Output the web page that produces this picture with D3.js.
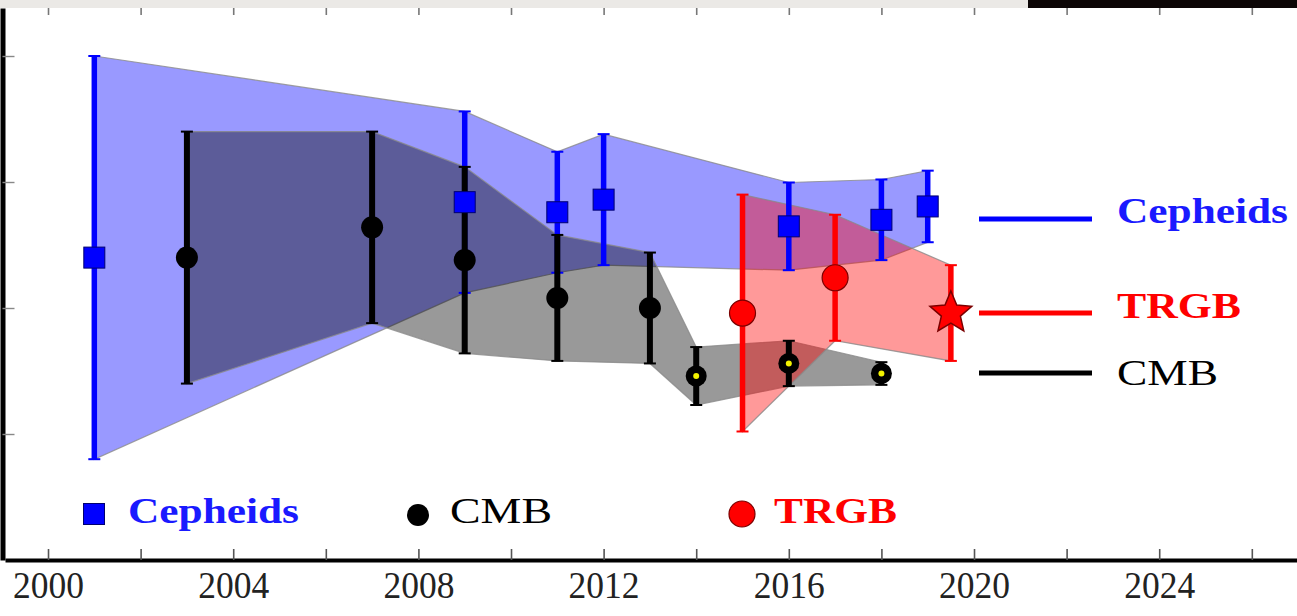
<!DOCTYPE html>
<html>
<head>
<meta charset="utf-8">
<script src="https://cdn.jsdelivr.net/npm/d3@7"></script>
<style>
  html, body { margin: 0; padding: 0; background: #fff; }
  svg { display: block; }
</style>
</head>
<body>
<script>
// ---------------- data ----------------
const cephYears = [2001, 2009, 2011, 2012, 2016, 2018, 2019];
const cephH0    = [72.0, 74.2, 73.8, 74.3, 73.24, 73.5, 74.03];
const cephErr   = [8.0, 3.6, 2.4, 2.6, 1.74, 1.6, 1.42];

const cmbYears  = [2003, 2007, 2009, 2011, 2013, 2014, 2016, 2018];
const cmbH0     = [72.0, 73.2, 71.9, 70.4, 70.0, 67.3, 67.8, 67.4];
const cmbErr    = [5.0, 3.8, 3.7, 2.5, 2.2, 1.15, 0.9, 0.45];
const cmbKind   = ["WMAP", "WMAP", "WMAP", "WMAP", "WMAP", "Planck", "Planck", "Planck"];

const trgbYears = [2015, 2017, 2019.5];
const trgbH0    = [69.8, 71.2, 69.8];
const trgbErr   = [4.7, 2.5, 1.9];
const trgbKind  = ["circle", "circle", "star"];

const xTickYears  = [2000, 2002, 2004, 2006, 2008, 2010, 2012, 2014, 2016, 2018, 2020, 2022, 2024, 2026];
const xLabelYears = [2000, 2004, 2008, 2012, 2016, 2020, 2024];
const yTickValues = [65, 70, 75, 80];

const legendNames = ["Cepheids", "CMB", "TRGB"];

// ---------------- setup ----------------
const W = 1297, H = 616;
const svg = d3.select("body").append("svg").attr("width", W).attr("height", H);

const x = d3.scaleLinear().domain([1999.071, 2026.976]).range([5, 1297]);
const y = d3.scaleLinear().domain([60, 81.905]).range([560, 8]);

const colors = {
  Cepheids: { main: "#0000ff", band: "rgba(0,0,255,0.4)", text: "#1a1aff", edge: "#000070" },
  CMB:      { main: "#000000", band: "rgba(0,0,0,0.4)",   text: "#000000", edge: "#000000" },
  TRGB:     { main: "#ff0000", band: "rgba(255,0,0,0.4)", text: "#ff0000", edge: "#7a0000" }
};

function pts(years, vals, errs) {
  return years.map((yr, i) => ({ yr, v: vals[i], e: errs[i], i }));
}
const ceph = pts(cephYears, cephH0, cephErr);
const cmb  = pts(cmbYears, cmbH0, cmbErr);
const trgb = pts(trgbYears, trgbH0, trgbErr);

// top screenshot strip
svg.append("rect").attr("x", 0).attr("y", 0).attr("width", 1028).attr("height", 8).attr("fill", "#ebe9e6");
svg.append("rect").attr("x", 1028).attr("y", 0).attr("width", W - 1028).attr("height", 8).attr("fill", "#0c0606");

// ---------------- bands ----------------
function bandPath(data) {
  const upper = data.map(d => [x(d.yr), y(d.v + d.e)]);
  const lower = data.slice().reverse().map(d => [x(d.yr), y(d.v - d.e)]);
  return d3.line()(upper.concat(lower)) + "Z";
}
const bands = svg.append("g");
[["Cepheids", ceph], ["CMB", cmb], ["TRGB", trgb]].forEach(([name, data]) => {
  bands.append("path")
    .attr("d", bandPath(data))
    .attr("fill", colors[name].band)
    .attr("stroke", "#8a8a8a")
    .attr("stroke-opacity", 0.8)
    .attr("stroke-width", 1.2);
});

// ---------------- axes ----------------
const xAxis = d3.axisBottom(x)
  .tickValues(xTickYears)
  .tickSizeInner(-11)
  .tickSizeOuter(0)
  .tickPadding(12)
  .tickFormat(d => xLabelYears.includes(d) ? String(d) : "");
const gx = svg.append("g").attr("transform", "translate(0,560)").call(xAxis);
gx.select(".domain").attr("stroke", "#000").attr("stroke-width", 4);
gx.selectAll(".tick line").attr("stroke", "#555").attr("stroke-width", 1.6);
gx.selectAll(".tick text")
  .attr("fill", "#222")
  .attr("font-family", "'Liberation Serif', 'Times New Roman', serif")
  .attr("font-size", 37)
  .each(function(d) {
    if (xLabelYears.includes(d)) d3.select(this).attr("textLength", 71).attr("lengthAdjust", "spacingAndGlyphs");
  });

const xTop = d3.axisTop(x).tickValues(xTickYears).tickSizeInner(-7).tickSizeOuter(0).tickFormat("");
const gt = svg.append("g").attr("transform", "translate(0,8)").call(xTop);
gt.select(".domain").remove();
gt.selectAll(".tick line").attr("stroke", "#777").attr("stroke-width", 1.6);

const yAxis = d3.axisLeft(y).tickValues(yTickValues).tickSizeInner(-12).tickSizeOuter(0).tickFormat("");
const gy = svg.append("g").attr("transform", "translate(2.5,0)").call(yAxis);
gy.select(".domain").attr("stroke", "#000").attr("stroke-width", 5);
gy.selectAll(".tick line").attr("stroke", "#888").attr("stroke-width", 1.4);

// ---------------- error bars ----------------
function errorBars(data, color, width) {
  const g = svg.append("g");
  data.forEach(d => {
    const cx = x(d.yr);
    g.append("line").attr("x1", cx).attr("x2", cx)
      .attr("y1", y(d.v + d.e)).attr("y2", y(d.v - d.e))
      .attr("stroke", color).attr("stroke-width", width);
    [d.v + d.e, d.v - d.e].forEach(v => {
      g.append("line").attr("x1", cx - 6).attr("x2", cx + 6)
        .attr("y1", y(v)).attr("y2", y(v))
        .attr("stroke", color).attr("stroke-width", 2);
    });
  });
}
errorBars(ceph, colors.Cepheids.main, 5.5);
errorBars(trgb, colors.TRGB.main, 5.5);
errorBars(cmb, colors.CMB.main, 6);

// ---------------- markers ----------------
const mk = svg.append("g");
ceph.forEach(d => {
  mk.append("rect")
    .attr("x", x(d.yr) - 10.5).attr("y", y(d.v) - 10.5)
    .attr("width", 21).attr("height", 21)
    .attr("fill", colors.Cepheids.main)
    .attr("stroke", colors.Cepheids.edge).attr("stroke-width", 1);
});
cmb.forEach(d => {
  if (cmbKind[d.i] === "Planck") {
    mk.append("circle").attr("cx", x(d.yr)).attr("cy", y(d.v)).attr("r", 10.5).attr("fill", "#000");
    mk.append("circle").attr("cx", x(d.yr)).attr("cy", y(d.v)).attr("r", 3).attr("fill", "#f2f200");
  } else {
    mk.append("circle").attr("cx", x(d.yr)).attr("cy", y(d.v)).attr("r", 11).attr("fill", "#000");
  }
});
function starPath(cx, cy, R, r) {
  const p = [];
  for (let k = 0; k < 10; k++) {
    const a = -Math.PI / 2 + k * Math.PI / 5;
    const rad = k % 2 === 0 ? R : r;
    p.push([cx + rad * Math.cos(a), cy + rad * Math.sin(a)]);
  }
  return d3.line()(p) + "Z";
}
trgb.forEach(d => {
  if (trgbKind[d.i] === "star") {
    mk.append("path").attr("d", starPath(x(d.yr), y(d.v), 22, 10))
      .attr("fill", colors.TRGB.main).attr("stroke", colors.TRGB.edge).attr("stroke-width", 1.5);
  } else {
    mk.append("circle").attr("cx", x(d.yr)).attr("cy", y(d.v)).attr("r", 13)
      .attr("fill", colors.TRGB.main).attr("stroke", colors.TRGB.edge).attr("stroke-width", 1.2);
  }
});

// ---------------- bottom legend ----------------
const serif = "'Liberation Serif', 'Times New Roman', serif";
const bl = svg.append("g");
bl.append("rect").attr("x", 83.5).attr("y", 503.5).attr("width", 21).attr("height", 21)
  .attr("fill", colors.Cepheids.main).attr("stroke", colors.Cepheids.edge).attr("stroke-width", 1);
bl.append("text").attr("x", 128).attr("y", 523).text(legendNames[0])
  .attr("font-family", serif).attr("font-weight", "bold").attr("font-size", 35)
  .attr("fill", colors.Cepheids.text).attr("textLength", 171).attr("lengthAdjust", "spacingAndGlyphs");
bl.append("circle").attr("cx", 418).attr("cy", 515).attr("r", 11).attr("fill", "#000");
bl.append("text").attr("x", 450).attr("y", 523).text(legendNames[1])
  .attr("font-family", serif).attr("font-size", 35)
  .attr("fill", colors.CMB.text).attr("textLength", 102).attr("lengthAdjust", "spacingAndGlyphs");
bl.append("circle").attr("cx", 742).attr("cy", 514).attr("r", 13)
  .attr("fill", colors.TRGB.main).attr("stroke", colors.TRGB.edge).attr("stroke-width", 1.2);
bl.append("text").attr("x", 774).attr("y", 523).text(legendNames[2])
  .attr("font-family", serif).attr("font-weight", "bold").attr("font-size", 35)
  .attr("fill", colors.TRGB.text).attr("textLength", 123).attr("lengthAdjust", "spacingAndGlyphs");

// ---------------- right legend ----------------
const rl = svg.append("g");
const rightItems = [
  { name: legendNames[0], lineY: 219, base: 223, bold: true, len: 171 },
  { name: legendNames[2], lineY: 313, base: 318, bold: true, len: 124 },
  { name: legendNames[1], lineY: 373, base: 385, bold: false, len: 101 }
];
rightItems.forEach(it => {
  rl.append("line").attr("x1", 979).attr("x2", 1092).attr("y1", it.lineY).attr("y2", it.lineY)
    .attr("stroke", colors[it.name].main).attr("stroke-width", 5);
  rl.append("text").attr("x", 1117).attr("y", it.base).text(it.name)
    .attr("font-family", serif).attr("font-weight", it.bold ? "bold" : "normal").attr("font-size", 35)
    .attr("fill", colors[it.name].text).attr("textLength", it.len).attr("lengthAdjust", "spacingAndGlyphs");
});
</script>
</body>
</html>
